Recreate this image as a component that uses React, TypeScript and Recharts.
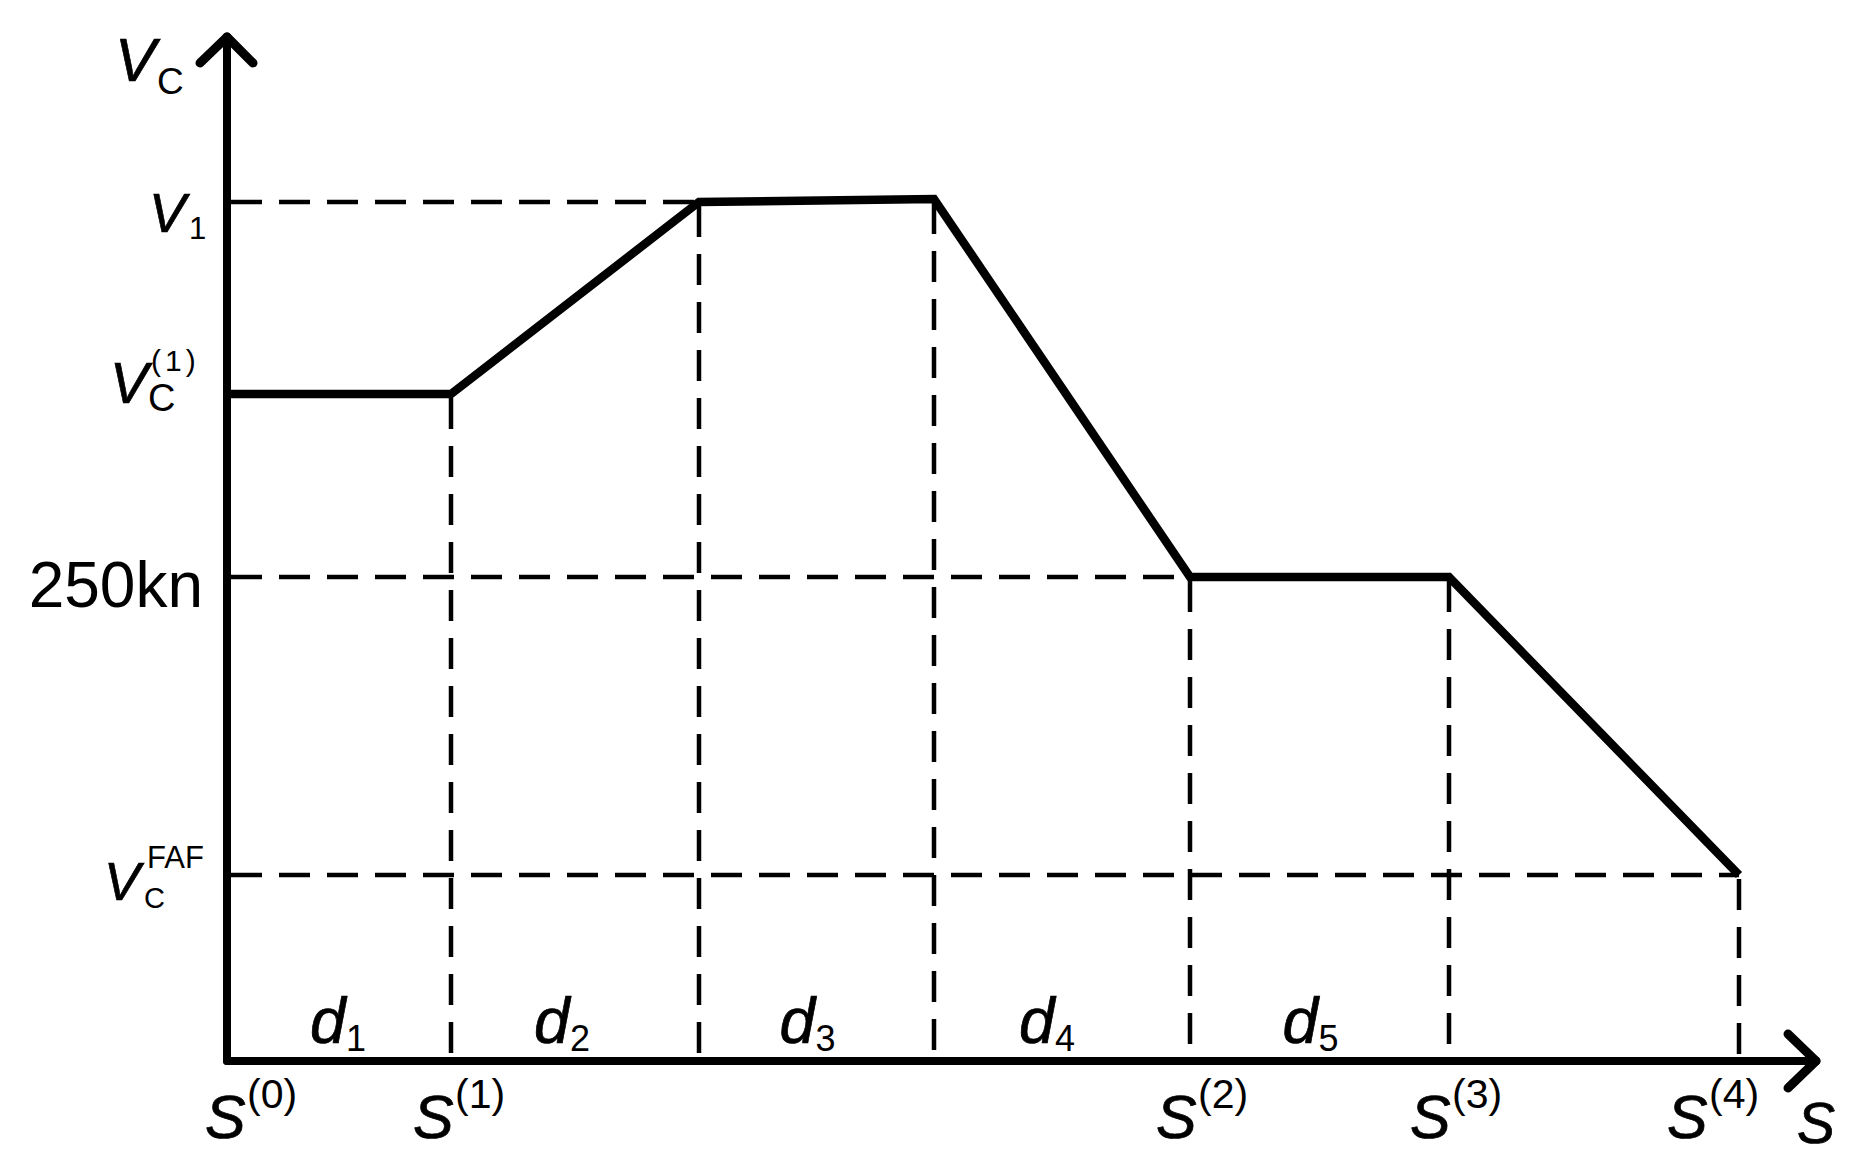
import {
  LineChart,
  Line,
  XAxis,
  YAxis,
  ReferenceLine,
  ReferenceDot,
} from "recharts";

// speed profile (distance s, speed v), arbitrary units
const sPos = [0, 2.24, 4.72, 7.07, 9.63, 12.22, 15.12];
const vPos = [6.67, 6.67, 8.59, 8.62, 4.84, 4.84, 1.86];

const yTickValues = [8.6, 6.67, 4.84, 1.86];
const yTickNames = ["v1", "vc1", "250kn", "faf"];

const sTickIdx = [0, 1, 4, 5, 6];
const sTickNames = ["(0)", "(1)", "(2)", "(3)", "(4)"];

const segNames = ["1", "2", "3", "4", "5"];

const profile = sPos.map((s, i) => ({ s, v: vPos[i] }));

const X_MAX = 15.89;
const Y_MAX = 10.24;
const FONT = "'Liberation Sans', Arial, sans-serif";

// label layout (px offsets from the anchor point)
const sLabelShift = [-22, -38, -34, -39, -72];
const dLabelShift = [-2, -14, -10, -16, -10];

type Piece = {
  t: string;
  dx: number;
  dy: number;
  fs: number;
  it?: boolean;
  end?: boolean;
  ls?: number;
};

const yLabelPieces: Record<string, Piece[]> = {
  v1: [
    { t: "V", dx: -78, dy: 31, fs: 55, it: true },
    { t: "1", dx: -38, dy: 38, fs: 31 },
  ],
  vc1: [
    { t: "V", dx: -117, dy: 9, fs: 57, it: true },
    { t: "C", dx: -79, dy: 17, fs: 38 },
    { t: "(1)", dx: -76, dy: -23, fs: 30, ls: 4 },
  ],
  "250kn": [{ t: "250kn", dx: -24, dy: 30, fs: 64, end: true }],
  faf: [
    { t: "V", dx: -123, dy: 25, fs: 54, it: true },
    { t: "C", dx: -83, dy: 33, fs: 29 },
    { t: "FAF", dx: -80, dy: -7, fs: 31 },
  ],
};

const italicWeight = { stroke: "#000", strokeWidth: 0.7 };

function Pieces({ x, y, items }: { x: number; y: number; items: Piece[] }) {
  return (
    <g>
      {items.map((p, i) => (
        <text
          key={i}
          x={x + p.dx}
          y={y + p.dy}
          fontSize={p.fs}
          fontStyle={p.it ? "italic" : "normal"}
          fontFamily={FONT}
          textAnchor={p.end ? "end" : "start"}
          letterSpacing={p.ls || 0}
          fill="#000"
          {...(p.it ? italicWeight : {})}
        >
          {p.t}
        </text>
      ))}
    </g>
  );
}

function YTick(props: any) {
  const { x, y, payload } = props;
  const name = yTickNames[yTickValues.indexOf(payload.value)];
  const items = yLabelPieces[name];
  if (!items) return null;
  return <Pieces x={x} y={y} items={items} />;
}

function STick(props: any) {
  const { x, y, payload } = props;
  const k = sTickIdx.findIndex((i) => sPos[i] === payload.value);
  if (k < 0) return null;
  const sx = x + sLabelShift[k];
  return (
    <g>
      <text
        x={sx}
        y={y + 77}
        fontSize={61}
        fontStyle="italic"
        fontFamily={FONT}
        fill="#000"
        {...italicWeight}
      >
        S
      </text>
      <text x={sx + 42} y={y + 47} fontSize={41} fontFamily={FONT} fill="#000">
        {sTickNames[k]}
      </text>
    </g>
  );
}

function dLabel(k: number) {
  return (props: any) => {
    const { cx, cy } = props;
    const c = cx + dLabelShift[k];
    return (
      <g>
        <text
          x={c - 27}
          y={cy - 18}
          fontSize={64}
          fontStyle="italic"
          fontFamily={FONT}
          fill="#000"
          {...italicWeight}
        >
          d
        </text>
        <text x={c + 9} y={cy - 10} fontSize={36} fontFamily={FONT} fill="#000">
          {segNames[k]}
        </text>
      </g>
    );
  };
}

const titleShape = (props: any) => (
  <Pieces
    x={props.cx}
    y={props.cy}
    items={[
      { t: "V", dx: -112, dy: 44, fs: 61, it: true },
      { t: "C", dx: -70, dy: 57, fs: 37 },
    ]}
  />
);

const sNameShape = (props: any) => (
  <Pieces x={props.cx} y={props.cy} items={[{ t: "S", dx: -19, dy: 82, fs: 57, it: true }]} />
);

const dash = { stroke: "#000", strokeWidth: 4.5, strokeDasharray: "31 17" };
const arm = { stroke: "#000", strokeWidth: 9, strokeLinecap: "round" as const };

export default function App() {
  const hDashed = [2, 4, 6];
  const vDashed = [1, 2, 3, 4, 5, 6];
  return (
    <div style={{ position: "absolute", left: 0, top: 0, background: "#fff" }}>
      <LineChart
        width={1851}
        height={1168}
        data={profile}
        margin={{ top: 37, right: 35, bottom: 0, left: 0 }}
      >
        <XAxis
          type="number"
          dataKey="s"
          domain={[0, X_MAX]}
          ticks={sTickIdx.map((i) => sPos[i])}
          interval={0}
          height={107}
          tickLine={false}
          tickSize={0}
          tickMargin={0}
          axisLine={{ stroke: "#000", strokeWidth: 8, strokeLinecap: "round" }}
          tick={<STick />}
          allowDataOverflow
        />
        <YAxis
          type="number"
          domain={[0, Y_MAX]}
          ticks={yTickValues}
          interval={0}
          width={227}
          tickLine={false}
          tickSize={0}
          tickMargin={0}
          axisLine={{ stroke: "#000", strokeWidth: 8, strokeLinecap: "round" }}
          tick={<YTick />}
          allowDataOverflow
        />

        {hDashed.map((i) => (
          <ReferenceLine
            key={"h" + i}
            segment={[
              { x: 0.04, y: vPos[i] },
              { x: sPos[i], y: vPos[i] },
            ]}
            ifOverflow="visible"
            {...dash}
          />
        ))}
        {vDashed.map((i) => (
          <ReferenceLine
            key={"v" + i}
            segment={[
              { x: sPos[i], y: vPos[i] - 0.04 },
              { x: sPos[i], y: 0 },
            ]}
            ifOverflow="visible"
            {...dash}
          />
        ))}

        {/* arrow heads */}
        <ReferenceLine segment={[{ x: -0.27, y: 9.98 }, { x: 0, y: Y_MAX }]} ifOverflow="visible" {...arm} />
        <ReferenceLine segment={[{ x: 0.26, y: 9.98 }, { x: 0, y: Y_MAX }]} ifOverflow="visible" {...arm} />
        <ReferenceLine segment={[{ x: 15.61, y: 0.27 }, { x: X_MAX, y: 0 }]} ifOverflow="visible" {...arm} />
        <ReferenceLine segment={[{ x: 15.61, y: -0.27 }, { x: X_MAX, y: 0 }]} ifOverflow="visible" {...arm} />

        <Line
          type="linear"
          dataKey="v"
          stroke="#000"
          strokeWidth={8.5}
          strokeLinejoin="miter"
          dot={false}
          activeDot={false}
          isAnimationActive={false}
        />

        {segNames.map((n, k) => (
          <ReferenceDot
            key={"d" + n}
            x={(sPos[k] + sPos[k + 1]) / 2}
            y={0}
            ifOverflow="visible"
            shape={dLabel(k)}
          />
        ))}
        <ReferenceDot x={0} y={Y_MAX} ifOverflow="visible" shape={titleShape} />
        <ReferenceDot x={X_MAX} y={0} ifOverflow="visible" shape={sNameShape} />
      </LineChart>
    </div>
  );
}
